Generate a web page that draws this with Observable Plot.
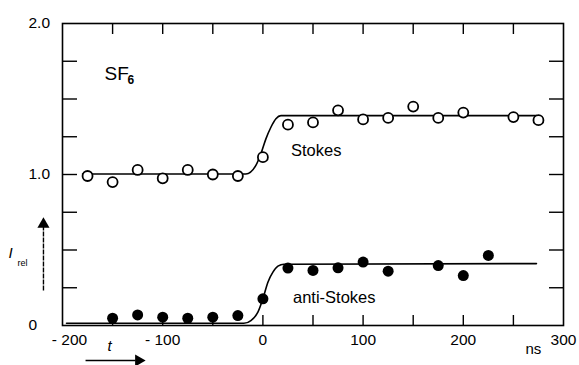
<!DOCTYPE html>
<html><head><meta charset="utf-8">
<script src="https://cdn.jsdelivr.net/npm/d3@7"></script>
<script src="https://cdn.jsdelivr.net/npm/@observablehq/plot@0.6"></script>
<style>
body{margin:0;background:#fff}
#chart svg{font-family:"Liberation Sans",Arial,Helvetica,sans-serif;display:block}
</style>
</head><body><div id="chart"></div>
<script>
// Measured data (t in ns, I_rel)
const stokesT = [-175,-150,-125,-100,-75,-50,-25,0,25,50,75,100,125,150,175,200,250,275];
const stokesV = [0.99,0.95,1.03,0.975,1.03,1.0,0.99,1.115,1.33,1.345,1.425,1.365,1.375,1.45,1.375,1.41,1.38,1.36];
const antiT = [-150,-125,-100,-75,-50,-25,0,25,50,75,100,125,175,200,225];
const antiV = [0.048,0.07,0.055,0.048,0.055,0.066,0.177,0.38,0.365,0.382,0.42,0.36,0.397,0.331,0.464];
// Fit curves
const stokesFitT = [-180,-17,-7,-2,3,8,13,18,273];
const stokesFitV = [1.003,1.003,1.06,1.137,1.236,1.313,1.369,1.39,1.39];
const antiFitT = [-196,-19,-12,-5,0,5,10,15,21,273];
const antiFitV = [0.015,0.015,0.033,0.088,0.177,0.287,0.353,0.393,0.406,0.41];
// Axes
const xTicks = [-150,-100,-50,0,50,100,150,200,250];
const xLabels = [-100,0,100,200,300];
const xFirstLabel = [-200];
const yTicks = [0.25,0.5,0.75,1.0,1.25,1.5,1.75];
const yLabels = [0,1,2];
const yLabelText = ["0","1.0","2.0"];

const stokes = stokesT.map((t,i)=>({t, v: stokesV[i]}));
const anti = antiT.map((t,i)=>({t, v: antiV[i]}));
const stokesFit = stokesFitT.map((t,i)=>({t, v: stokesFitV[i]}));
const antiFit = antiFitT.map((t,i)=>({t, v: antiFitV[i]}));
const yLab = yLabels.map((v,i)=>({v, s: yLabelText[i]}));
const fmt = d => d < 0 ? "- " + Math.abs(d) : String(d);

const chart = Plot.plot({
  width: 579, height: 365,
  marginLeft: 62, marginRight: 16, marginTop: 23, marginBottom: 40,
  x: {domain: [-200, 300], label: null},
  y: {domain: [0, 2], label: null},
  style: {background: "white", color: "black", fontSize: "15px", fontFamily: "Liberation Sans, Arial, sans-serif", overflow: "visible"},
  marks: [
    Plot.frame({stroke: "black", strokeWidth: 1.6}),
    // inward ticks
    Plot.axisX(xTicks, {anchor: "bottom", tickSize: -10, tickFormat: () => "", strokeWidth: 1.4, label: null}),
    Plot.axisX(xTicks, {anchor: "top", tickSize: -10, tickFormat: () => "", strokeWidth: 1.4, label: null}),
    Plot.axisY(yTicks, {anchor: "left", tickSize: -15, tickFormat: () => "", strokeWidth: 1.4, label: null}),
    Plot.axisY(yTicks, {anchor: "right", tickSize: -15, tickFormat: () => "", strokeWidth: 1.4, label: null}),
    // tick labels
    Plot.axisX(xLabels, {anchor: "bottom", tickSize: 0, tickPadding: 8, tickFormat: fmt, fontSize: 15.5, label: null}),
    Plot.axisX(xFirstLabel, {anchor: "bottom", tickSize: 0, tickPadding: 8, tickFormat: fmt, fontSize: 15.5, dx: 7, label: null}),
    Plot.text(yLab, {y: "v", text: "s", frameAnchor: "left", textAnchor: "start", dx: -34, fontSize: 15.5}),
    // fits
    Plot.line(stokesFit, {x: "t", y: "v", curve: "monotone-x", stroke: "black", strokeWidth: 1.6}),
    Plot.line(antiFit, {x: "t", y: "v", curve: "monotone-x", stroke: "black", strokeWidth: 1.6}),
    // points
    Plot.dot(stokes, {x: "t", y: "v", r: 5, stroke: "black", strokeWidth: 1.8, fill: "white"}),
    Plot.dot(anti, {x: "t", y: "v", r: 5.5, fill: "black", stroke: "none"}),
    // annotations
    Plot.text(["SF"], {frameAnchor: "top-left", dx: 42, dy: 43, textAnchor: "start", fontSize: 19}),
    Plot.text(["6"], {frameAnchor: "top-left", dx: 65, dy: 52, textAnchor: "start", fontSize: 12, fontWeight: "bold"}),
    Plot.text(["Stokes"], {x: 28, y: 1.158, textAnchor: "start", fontSize: 16.5}),
    Plot.text(["anti-Stokes"], {x: 30, y: 0.185, textAnchor: "start", fontSize: 16.5}),
    Plot.text(["ns"], {frameAnchor: "bottom-right", dx: -38, dy: 28, textAnchor: "start", fontSize: 15}),
    Plot.text(["I"], {frameAnchor: "left", dx: -54, dy: 79, textAnchor: "start", fontSize: 15, fontStyle: "italic"}),
    Plot.text(["rel"], {frameAnchor: "left", dx: -45, dy: 89, textAnchor: "start", fontSize: 9}),
    Plot.text(["t"], {frameAnchor: "bottom-left", dx: 45, dy: 25, textAnchor: "start", fontSize: 15, fontStyle: "italic"}),
    // arrows
    Plot.link([0], {x1: -219, x2: -219, y1: 0.232, y2: 0.66, stroke: "black", strokeWidth: 1.4, strokeDasharray: "5,1"}),
    Plot.dot([0], {x: -219, y: 0.67, symbol: "triangle", r: 4.5, fill: "black", stroke: "none"}),
    Plot.link([0], {x1: -177, x2: -127, y1: -0.232, y2: -0.232, stroke: "black", strokeWidth: 1.5}),
    Plot.dot([0], {x: -124, y: -0.232, symbol: "triangle", rotate: 90, r: 4.5, fill: "black", stroke: "none"})
  ]
});
document.getElementById("chart").appendChild(chart);
</script>
</body></html>
